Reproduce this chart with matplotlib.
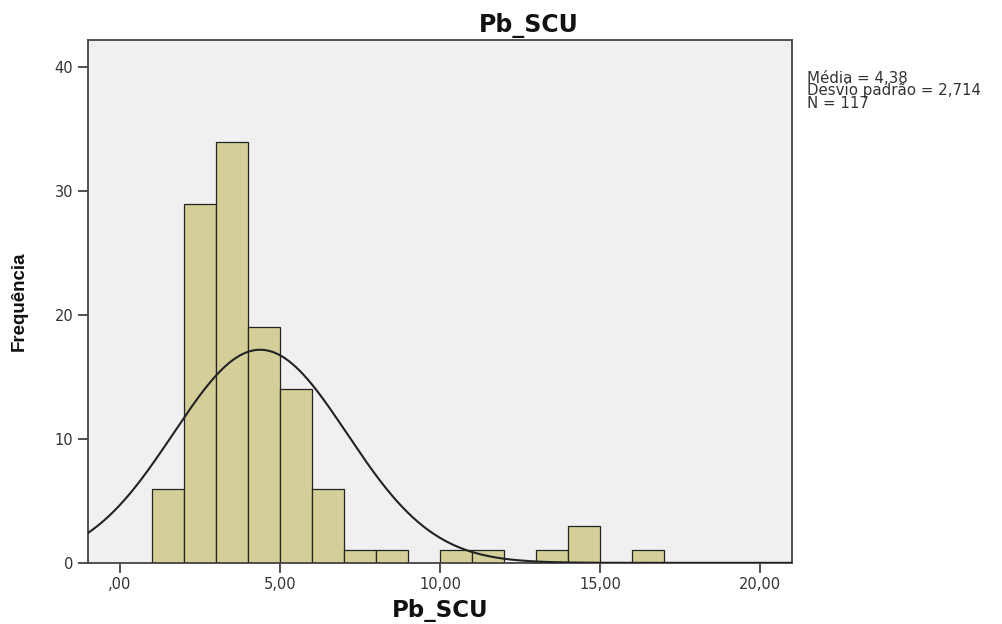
import numpy as np
import matplotlib.pyplot as plt

# histogram of Pb_SCU (bin width 1)
bin_edges = [1, 2, 3, 4, 5, 6, 7, 8, 9, 10, 11, 12, 13, 14, 15, 16, 17]
counts = [6, 29, 34, 19, 14, 6, 1, 1, 0, 1, 1, 0, 1, 3, 0, 1]
mean = 4.38
std = 2.714
n = 117

x_ticks = [0, 5, 10, 15, 20]
x_tick_labels = [",00", "5,00", "10,00", "15,00", "20,00"]
y_ticks = [0, 10, 20, 30, 40]

plt.rcParams['font.family'] = ['DejaVu Sans']

fig = plt.figure(figsize=(10.03, 6.24), dpi=100)
ax = fig.add_axes([0.0877, 0.098, 0.702, 0.838])
ax.set_facecolor('#f0f0f0')

lefts = np.array(bin_edges[:-1])
widths = np.diff(bin_edges)
ax.bar(lefts, counts, width=widths, align='edge', color='#d4cf98',
       edgecolor='#222222', linewidth=0.9, zorder=2)

# normal curve scaled to counts
xs = np.linspace(-1, 21, 400)
ys = n * 1.0 / (std * np.sqrt(2 * np.pi)) * np.exp(-0.5 * ((xs - mean) / std) ** 2)
ax.plot(xs, ys, color='#222222', linewidth=1.5, zorder=3)

ax.set_xlim(-1, 21)
ax.set_ylim(0, 42.2)
ax.set_xticks(x_ticks)
ax.set_xticklabels(x_tick_labels)
ax.set_yticks(y_ticks)
ax.tick_params(axis='both', direction='out', length=7, width=1.2,
               labelsize=10.5, labelcolor='#333333', color='#333333')
for s in ax.spines.values():
    s.set_color('#444444')
    s.set_linewidth(1.3)

fig.text(0.527, 0.949, 'Pb_SCU', fontsize=17, fontweight='bold',
         ha='center', va='baseline', color='#111111')
ax.set_xlabel('Pb_SCU', fontsize=16.5, fontweight='bold', labelpad=5, color='#111111')
ax.set_ylabel('Frequência', fontsize=13.5, fontweight='bold', color='#111111',
              family=['Liberation Sans Narrow', 'Liberation Sans', 'DejaVu Sans'])
ax.yaxis.set_label_coords(-0.086, 0.5)

fig.text(0.805, 0.887, 'Média = 4,38\nDesvio padrão = 2,714\nN = 117',
         fontsize=10.8, color='#333333', va='top', ha='left', linespacing=0.8)

fig.savefig('out.png', dpi=100, facecolor='white')
